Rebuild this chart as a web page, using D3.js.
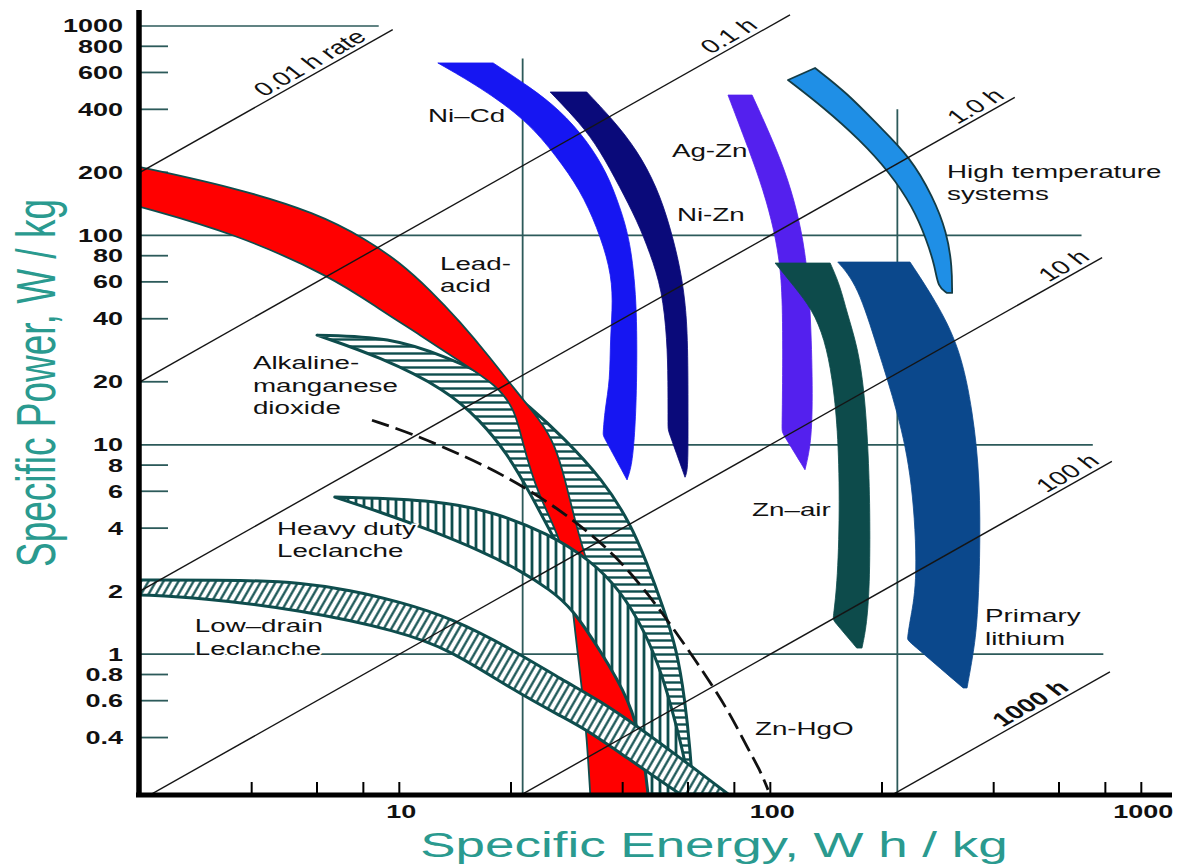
<!DOCTYPE html>
<html>
<head>
<meta charset="utf-8">
<script src="https://cdn.jsdelivr.net/npm/d3@7"></script>
<style>
  body { margin: 0; background: #ffffff; }
  svg { display: block; font-family: "Liberation Sans", Arial, sans-serif; }
</style>
</head>
<body>
<svg id="chart" width="1187" height="867"></svg>
<script>
// ---------------- Data (specific energy E in Wh/kg, specific power P in W/kg) ----------------

const yTickValues = [1000, 800, 600, 400, 200, 100, 80, 60, 40, 20, 10, 8, 6, 4, 2, 1, 0.8, 0.6, 0.4];
const yGridValues = [1000, 100, 10, 1];
const yGridEnds   = [8.8, 690, 740, 790];          // energy where each power gridline stops
const xTickValues = [4, 6, 8, 10, 20, 40, 60, 80, 100, 200, 400, 600, 800, 1000];
const xLabelValues = [10, 100, 1000];
const xGridValues = [21.5, 220];
const xGridTops   = [700, 400];                     // power where each energy gridline stops

// constant discharge-time lines  P = E / t
const rateHours     = [0.01, 0.1, 1, 10, 100, 1000];
const rateLabels    = ["0.01 h rate", "0.1 h", "1.0 h", "10 h", "100 h", "1000 h"];
const rateEnds      = [9.6, 113, 456, 784, 833, 823];
const rateLabelAt   = [5.94, 80, 370, 640, 655, 520];

// solid-colour bands: [E, P] along each edge
const niCdInner = [[12.7,666],[16.5,511],[22,356],[26.6,237],[30.7,165],[34.1,110],[37,70.7],[37.7,49.2],[37,31.7],[37,20.4],[35.8,14.7],[35.4,11.1],[35.4,11.1],[41.1,6.8]];
const niCdOuter = [[17.9,666],[22.5,511],[27.1,397],[32,285],[36.3,199],[39.3,137],[41.9,95],[43.7,49.2],[43.7,20.4],[43.2,11.8],[42.4,8.0],[41.1,6.8]];

const niZnInner = [[25.5,484],[30.7,344],[34.7,256],[39.3,170],[43.7,118],[47.4,82.4],[51.1,54.9],[52.7,31.7],[53,20.4],[53,11.8],[53,11.8],[58.9,7.0]];
const niZnOuter = [[32,484],[37.7,356],[43.7,256],[49.5,170],[53.7,110],[57.1,70.7],[58.9,49.2],[60,31.7],[60,11.8],[60,7.6],[58.9,7.0]];

const agZnLeft  = [[76.9,468],[85.5,286],[93.8,184],[101,118],[106,76.3],[108,49.2],[108,20.4],[107.5,11.5],[107.5,11.5],[124,7.6]];
const agZnRight = [[89.3,468],[98.6,319],[109.5,205],[118,132],[124,85.2],[128,49.2],[130,20.4],[129.5,10.5],[124,7.6]];

const znAirLeft  = [[103,73.8],[116,57],[130,44],[140,32],[147,21],[152,12],[154,5.45],[152,2.26],[147.5,1.46],[147.5,1.46],[171,1.07]];
const znAirRight = [[145,73.8],[154,58],[161,42.6],[172,29.3],[179,18.3],[183,10.5],[185.6,5.45],[185.6,2.26],[182,1.38],[176.6,1.07]];

const liLeft  = [[152,74.6],[172,58],[194,29.3],[221,14.2],[242,6.8],[250,2.26],[238,1.46],[234,1.17],[234,1.17],[331,0.69]];
const liRight = [[238,74.6],[278,49.2],[324.5,29.3],[352,14.2],[367.5,6.8],[367.5,2.82],[361,1.35],[350,0.94],[339,0.69]];

const highTempOuter = [[132,630],[161,479],[197.5,329],[238,237],[274.5,153],[299.5,103],[309,70.7],[309,53.1]];
const highTempInner = [[111.6,552],[138.7,410],[174.5,285.5],[210,199],[242,137],[264,95],[278,70.7],[283,56.7],[299.5,53.1]];

const leadAcidOuter = [[2,212],[3.56,170],[6.0,128],[8.2,95],[10,74.6],[12.1,54.9],[14.6,38.6],[17.5,26.3],[20.5,18.3],[24,13.1],[26.3,10],[28,6.8],[29.7,4.4],[32,2.73],[35.8,1.63],[40.6,0.94],[44,0.54],[45.9,0.31],[46.8,0.215]];
const leadAcidInner = [[2,137],[3.56,103],[6.6,63.3],[8.9,44],[11.4,33.4],[14.6,24.9],[18.3,19.3],[20.5,14.7],[21.4,10.5],[23.5,5.9],[27.1,3.63],[28.8,2.26],[29.75,1.29],[31.1,0.675],[32.05,0.389],[32.7,0.215]];

// hatched bands
const alkalineOuter = [[6.0,33.4],[9.44,32.7],[13.4,26.3],[18.3,20.4],[22.5,15.15],[27.6,10.9],[35.4,6.8],[41.9,4.23],[46.5,2.73],[51.4,1.68],[56,1.05],[58.9,0.6],[60.8,0.35],[61.9,0.215]];
const alkalineInner = [[6.0,33.4],[8.87,26.3],[13.4,18.3],[16.5,13.1],[19.5,9.14],[22.5,5.89],[26,3.63],[29.4,2.39],[34.7,1.46],[39.3,0.89],[43.2,0.54],[45.9,0.31],[47.4,0.215]];

const heavyDutyTop    = [[6.7,5.63],[12.9,5.45],[18.3,4.72],[25,3.79],[32.7,2.82],[39.3,2.03],[45.9,1.29],[51.1,0.8],[55.3,0.485],[58.9,0.3125],[60.8,0.215]];
const heavyDutyBottom = [[6.7,5.63],[8.87,4.78],[12.1,3.92],[16.5,3.13],[21.1,2.52],[25.5,2.03],[29.2,1.66],[34.7,1.05],[41.9,0.6],[45.4,0.35],[46.8,0.215]];

const lowDrainUpper = [[2,2.26],[3.96,2.26],[5.4,2.19],[7.36,2.03],[10,1.78],[13.7,1.5],[20.25,1.05],[27.6,0.75],[34.7,0.6],[44.5,0.444],[57.1,0.32],[68.8,0.25],[76.9,0.215]];
const lowDrainLower = [[2,1.92],[2.9,1.86],[5.4,1.63],[10,1.29],[13.7,1.05],[20.25,0.675],[27.6,0.5],[32,0.435],[41.9,0.3125],[50.4,0.25],[57.1,0.215]];

// Zn-HgO boundary (dashed curve)
const znHgO = [[8.44,13.1],[10.7,11.4],[15.2,8.74],[19.5,7.02],[24.7,5.45],[30.7,4.14],[38.1,2.98],[45.9,2.03],[52.7,1.46],[60.8,1.02],[70.1,0.7],[78.8,0.5],[86.5,0.36],[93.8,0.28],[98.6,0.225]];

// system names, placed at [E, P] of the first line's left baseline
const systemLabels = [
  { lines: ["Ni–Cd"], at: [11.95, 348] },
  { lines: ["Ag-Zn"], at: [54.3, 237] },
  { lines: ["Ni-Zn"], at: [56.0, 117] },
  { lines: ["Lead-", "acid"], at: [12.87, 68.4] },
  { lines: ["High temperature", "systems"], at: [299.5, 188] },
  { lines: ["Alkaline-", "manganese", "dioxide"], at: [4.03, 23.0] },
  { lines: ["Heavy duty", "Leclanche"], at: [4.68, 3.71] },
  { lines: ["Low–drain", "Leclanche"], at: [2.81, 1.276] },
  { lines: ["Zn–air"], at: [89.3, 4.57] },
  { lines: ["Primary", "lithium"], at: [379, 1.425] },
  { lines: ["Zn-HgO"], at: [90.9, 0.411] }
];

// ---------------- Styles ----------------
const colors = {
  niCd: "#1616f2",
  niZn: "#0a0a7a",
  agZn: "#5420ee",
  highTemp: "#1f8fe6",
  znAir: "#0d4b4b",
  lithium: "#0b488c",
  leadAcid: "#ff0000",
  hatch: "#0e4d4d",
  grid: "#2c5a5a",
  title: "#2a9a8f"
};
const SX = 1.5;   // horizontal stretch of all lettering

// ---------------- Scales ----------------
const x = d3.scaleLog().domain([2, 1200]).range([140, 140 + 371 * Math.log10(600)]);
const y = d3.scaleLog().domain([0.215, 1000]).range([794, 26]);

const svg = d3.select("#chart");
const defs = svg.append("defs");

defs.append("clipPath").attr("id", "plot-clip").append("rect")
  .attr("x", x(2)).attr("y", 0)
  .attr("width", x(1200) - x(2)).attr("height", y(0.215));

// hatch patterns
const pH = defs.append("pattern").attr("id", "hatch-h")
  .attr("patternUnits", "userSpaceOnUse").attr("width", 10).attr("height", 7);
pH.append("line").attr("x1", 0).attr("x2", 10).attr("y1", 3.5).attr("y2", 3.5)
  .attr("stroke", colors.hatch).attr("stroke-width", 2.4);

const pV = defs.append("pattern").attr("id", "hatch-v")
  .attr("patternUnits", "userSpaceOnUse").attr("width", 8).attr("height", 10);
pV.append("line").attr("x1", 4).attr("x2", 4).attr("y1", 0).attr("y2", 10)
  .attr("stroke", colors.hatch).attr("stroke-width", 2.8);

const pD = defs.append("pattern").attr("id", "hatch-d")
  .attr("patternUnits", "userSpaceOnUse").attr("width", 6.5).attr("height", 10)
  .attr("patternTransform", "rotate(30)");
pD.append("line").attr("x1", 3.25).attr("x2", 3.25).attr("y1", 0).attr("y2", 10)
  .attr("stroke", colors.hatch).attr("stroke-width", 2.2);

const curve = d3.line().x(d => x(d[0])).y(d => y(d[1])).curve(d3.curveBasis);
const straight = d3.line().x(d => x(d[0])).y(d => y(d[1]));
function bandPath(a, b) {
  return curve(a) + curve(b.slice().reverse()).replace(/^M/, "L") + "Z";
}

// ---------------- Grid and ticks ----------------
const gGrid = svg.append("g");
yGridValues.forEach((v, i) => {
  gGrid.append("line")
    .attr("x1", x(2)).attr("x2", x(yGridEnds[i]))
    .attr("y1", y(v)).attr("y2", y(v))
    .attr("stroke", colors.grid).attr("stroke-width", 1.7);
});
yTickValues.filter(v => !yGridValues.includes(v)).forEach(v => {
  gGrid.append("line")
    .attr("x1", x(2)).attr("x2", x(2) + 28)
    .attr("y1", y(v)).attr("y2", y(v))
    .attr("stroke", colors.grid).attr("stroke-width", 1.8);
});
xGridValues.forEach((v, i) => {
  gGrid.append("line")
    .attr("x1", x(v)).attr("x2", x(v))
    .attr("y1", y(0.215)).attr("y2", y(xGridTops[i]))
    .attr("stroke", colors.grid).attr("stroke-width", 1.8);
});

// ---------------- Solid bands ----------------
const gBands = svg.append("g").attr("clip-path", "url(#plot-clip)");
const solidBands = [
  { inner: niCdInner, outer: niCdOuter, fill: colors.niCd },
  { inner: niZnInner, outer: niZnOuter, fill: colors.niZn },
  { inner: highTempInner, outer: highTempOuter, fill: colors.highTemp, stroke: "#143c46" },
  { inner: agZnLeft, outer: agZnRight, fill: colors.agZn },
  { inner: znAirLeft, outer: znAirRight, fill: colors.znAir },
  { inner: liLeft, outer: liRight, fill: colors.lithium }
];
solidBands.forEach(b => {
  gBands.append("path")
    .attr("d", bandPath(b.inner, b.outer))
    .attr("fill", b.fill)
    .attr("stroke", b.stroke || b.fill)
    .attr("stroke-width", b.stroke ? 1.8 : 0.8)
    .attr("stroke-linejoin", "round");
});

// ---------------- Primary-battery bands (hatched) and lead-acid ----------------
function hatchedBand(g, a, b, pattern) {
  const d = bandPath(a, b);
  g.append("path").attr("d", d).attr("fill", "#ffffff");
  g.append("path").attr("d", d).attr("fill", `url(#${pattern})`)
    .attr("stroke", colors.hatch).attr("stroke-width", 3).attr("stroke-linejoin", "round");
}
const gMix = svg.append("g").attr("clip-path", "url(#plot-clip)");
hatchedBand(gMix, alkalineOuter, alkalineInner, "hatch-h");
gMix.append("path")
  .attr("d", bandPath(leadAcidOuter, leadAcidInner))
  .attr("fill", colors.leadAcid)
  .attr("stroke", colors.hatch).attr("stroke-width", 1.8).attr("stroke-linejoin", "round");
hatchedBand(gMix, heavyDutyTop, heavyDutyBottom, "hatch-v");
hatchedBand(gMix, lowDrainUpper, lowDrainLower, "hatch-d");

// Zn-HgO dashed boundary
gMix.append("path")
  .attr("d", curve(znHgO))
  .attr("fill", "none").attr("stroke", "#111")
  .attr("stroke-width", 2.8).attr("stroke-dasharray", "18,7");

// ---------------- Constant-time lines ----------------
const gRates = svg.append("g").attr("clip-path", "url(#plot-clip)");
rateHours.forEach((t, i) => {
  gRates.append("path")
    .attr("d", straight([[2, 2 / t], [rateEnds[i], rateEnds[i] / t]]))
    .attr("fill", "none").attr("stroke", "#151515").attr("stroke-width", 1.4);
});

const dxDec = x(20) - x(2), dyDec = y(20) - y(2);
const len = Math.hypot(dxDec, dyDec);
const nx = dyDec / len, ny = -dxDec / len;              // normal pointing up-left
const textAngle = Math.atan2(dyDec, dxDec / SX) * 180 / Math.PI;
const gRateLabels = svg.append("g");
rateHours.forEach((t, i) => {
  const E = rateLabelAt[i];
  const cx = x(E) + 12 * nx, cy = y(E / t) + 12 * ny;
  gRateLabels.append("text")
    .attr("transform", `translate(${cx},${cy}) scale(${SX},1) rotate(${textAngle})`)
    .attr("text-anchor", "middle").attr("dy", "0.35em")
    .attr("font-size", 19)
    .attr("font-weight", t === 1000 ? "bold" : "normal")
    .attr("fill", "#111")
    .text(rateLabels[i]);
});

// ---------------- Axes ----------------
const gAxes = svg.append("g");
gAxes.append("line")
  .attr("x1", x(2) - 1).attr("x2", x(2) - 1)
  .attr("y1", 10).attr("y2", y(0.215) + 3)
  .attr("stroke", "#000").attr("stroke-width", 5.5);
gAxes.append("line")
  .attr("x1", x(2) - 4).attr("x2", 1172)
  .attr("y1", y(0.215) + 1).attr("y2", y(0.215) + 1)
  .attr("stroke", "#000").attr("stroke-width", 5);
xTickValues.forEach(v => {
  gAxes.append("line")
    .attr("x1", x(v)).attr("x2", x(v))
    .attr("y1", y(0.215)).attr("y2", y(0.215) - 12)
    .attr("stroke", "#000").attr("stroke-width", 2);
});

yTickValues.forEach(v => {
  gAxes.append("text")
    .attr("transform", `translate(123,${y(v)}) scale(${SX},1)`)
    .attr("text-anchor", "end").attr("dy", "0.36em")
    .attr("font-size", 18).attr("font-weight", "bold").attr("fill", "#111")
    .text(String(v));
});
xLabelValues.forEach(v => {
  gAxes.append("text")
    .attr("transform", `translate(${x(v) + 2},818) scale(${SX},1)`)
    .attr("text-anchor", "middle")
    .attr("font-size", 18).attr("font-weight", "bold").attr("fill", "#111")
    .text(String(v));
});

// axis titles
gAxes.append("text")
  .attr("transform", `translate(714,857) scale(${SX},1)`)
  .attr("text-anchor", "middle")
  .attr("font-size", 35.3).attr("fill", colors.title)
  .text("Specific Energy, W h / kg");
gAxes.append("text")
  .attr("transform", `translate(55,383) scale(${SX},1) rotate(-90)`)
  .attr("text-anchor", "middle")
  .attr("font-size", 37).attr("fill", colors.title)
  .text("Specific Power, W / kg");

// ---------------- System labels ----------------
const gLabels = svg.append("g");
systemLabels.forEach(l => {
  l.lines.forEach((s, k) => {
    gLabels.append("text")
      .attr("transform", `translate(${x(l.at[0])},${y(l.at[1]) + k * 22.5}) scale(${SX},1)`)
      .attr("font-size", 18.5).attr("fill", "#111")
      .attr("stroke", "#fff").attr("stroke-width", 3).attr("paint-order", "stroke")
      .text(s);
  });
});
</script>
</body>
</html>
